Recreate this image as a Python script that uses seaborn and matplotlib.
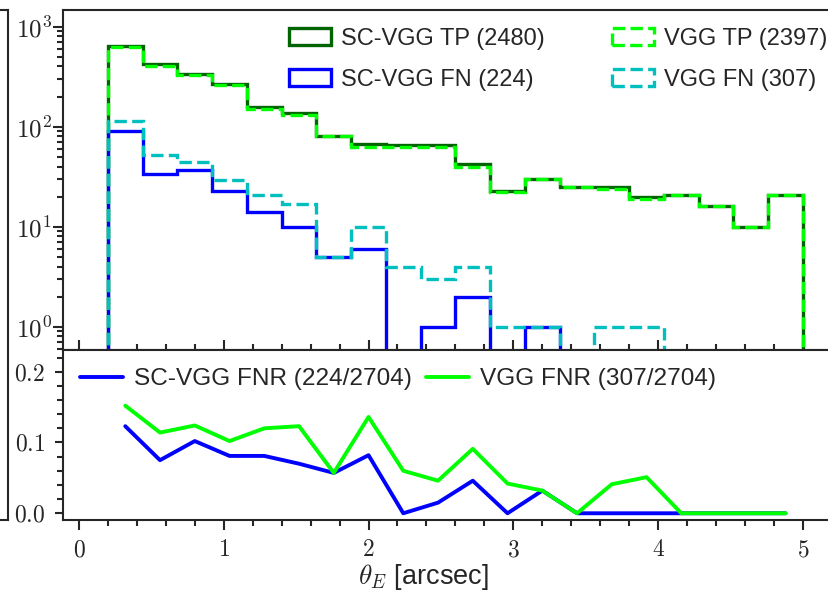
import numpy as np
import matplotlib
matplotlib.use("Agg")
import matplotlib.pyplot as plt
import seaborn as sns
from matplotlib.ticker import FuncFormatter, MultipleLocator, LogLocator, NullFormatter

# ---------------- data ----------------
bin_edges = [0.20, 0.44, 0.68, 0.92, 1.16, 1.40, 1.64, 1.88, 2.12, 2.36, 2.60,
             2.84, 3.08, 3.32, 3.56, 3.80, 4.04, 4.28, 4.52, 4.76, 5.00]
bin_centers = [0.32, 0.56, 0.80, 1.04, 1.28, 1.52, 1.76, 2.00, 2.24, 2.48,
               2.72, 2.96, 3.20, 3.44, 3.68, 3.92, 4.16, 4.40, 4.64, 4.88]

sc_tp = [646, 425, 333, 268, 159, 137, 81, 67, 66, 65, 42, 23, 30, 25, 25, 20, 21, 16, 10, 21]
vgg_tp = [623, 407, 326, 262, 152, 130, 81, 63, 62, 63, 40, 22, 30, 25, 24, 19, 21, 16, 10, 21]
sc_fn = [91, 34, 37, 23, 14, 10, 5, 6, 0, 1, 2, 0, 1, 0, 0, 0, 0, 0, 0, 0]
vgg_fn = [114, 52, 44, 29, 21, 17, 5, 10, 4, 3, 4, 1, 1, 0, 1, 1, 0, 0, 0, 0]

sc_fnr = [0.123, 0.075, 0.102, 0.081, 0.081, 0.070, 0.057, 0.082, 0.0, 0.015,
          0.046, 0.0, 0.032, 0.0, 0.0, 0.0, 0.0, 0.0, 0.0, 0.0]
vgg_fnr = [0.152, 0.114, 0.124, 0.102, 0.120, 0.123, 0.057, 0.136, 0.060, 0.046,
           0.091, 0.042, 0.032, 0.0, 0.041, 0.051, 0.0, 0.0, 0.0, 0.0]

labels_top = ["SC-VGG TP (2480)", "SC-VGG FN (224)", "VGG TP (2397)", "VGG FN (307)"]
labels_bot = ["SC-VGG FNR (224/2704)", "VGG FNR (307/2704)"]
xlabel = r"$\theta_E$ [arcsec]"

# ---------------- style ----------------
sns.set_style("ticks")
plt.rcParams["font.family"] = ["Liberation Sans", "DejaVu Sans"]
plt.rcParams["mathtext.fontset"] = "cm"
plt.rcParams["axes.linewidth"] = 1.5

W, H = 829, 591
fig = plt.figure(figsize=(W / 100, H / 100), dpi=100)

def fx(px):
    return px / W

def fy(py):
    return 1 - py / H

ax_left, ax_right = 63, 841
y_top, y_mid, y_bot = 10, 350, 520
px_per_unit = 144.8

# partial neighbouring panel on the left edge
ax0 = fig.add_axes([-0.5, fy(y_bot), 0.5 + fx(8), fy(y_top) - fy(y_bot)])
ax0.set_xticks([])
ax0.set_yticks([])
for s in ax0.spines.values():
    s.set_linewidth(1.5)

ax1 = fig.add_axes([fx(ax_left), fy(y_mid), fx(ax_right - ax_left), fy(y_top) - fy(y_mid)])
ax2 = fig.add_axes([fx(ax_left), fy(y_bot), fx(ax_right - ax_left), fy(y_mid) - fy(y_bot)])

# ---------------- top: histograms ----------------
lw_h = 2.4
ax1.hist(bin_centers, bins=bin_edges, weights=sc_tp, histtype="step", color="#006400",
         lw=lw_h, label=labels_top[0], log=True)
ax1.hist(bin_centers, bins=bin_edges, weights=sc_fn, histtype="step", color="#0000ff",
         lw=lw_h, label=labels_top[1], log=True)
ax1.hist(bin_centers, bins=bin_edges, weights=vgg_tp, histtype="step", color="#00ff00",
         lw=lw_h, ls="--", label=labels_top[2], log=True)
ax1.hist(bin_centers, bins=bin_edges, weights=vgg_fn, histtype="step", color="#00bfbf",
         lw=lw_h, ls="--", label=labels_top[3], log=True)

xmin = -0.11
xmax = xmin + (ax_right - ax_left) / px_per_unit
ax1.set_xlim(xmin, xmax)
ax1.set_ylim(0.586, 1467)
ax1.xaxis.set_major_locator(MultipleLocator(1))
ax1.xaxis.set_minor_locator(MultipleLocator(0.2))
ax1.tick_params(axis="x", which="both", direction="in", bottom=True, top=False,
                labelbottom=False, width=1.5)
ax1.tick_params(axis="x", which="major", length=7)
ax1.tick_params(axis="x", which="minor", length=4)
ax1.yaxis.set_major_locator(LogLocator(base=10, numticks=10))
ax1.yaxis.set_minor_locator(LogLocator(base=10, subs=np.arange(2, 10), numticks=20))
ax1.yaxis.set_major_formatter(FuncFormatter(lambda v, p: r"$10^{%d}$" % round(np.log10(v))))
ax1.yaxis.set_minor_formatter(NullFormatter())
ax1.tick_params(axis="y", which="both", direction="out", left=True, right=False,
                labelsize=18, pad=1, width=1.5)
ax1.tick_params(axis="y", which="major", length=7)
ax1.tick_params(axis="y", which="minor", length=4)
ax1.spines["right"].set_visible(False)

h, l = ax1.get_legend_handles_labels()
ax1.legend(h, l, ncol=2, loc="upper right", bbox_to_anchor=(fx(827), fy(28)),
           bbox_transform=fig.transFigure, frameon=False, fontsize=17,
           borderpad=0, borderaxespad=0, handlelength=1.8, handleheight=0.75,
           handletextpad=0.4, columnspacing=2.85, labelspacing=0.8)

# ---------------- bottom: FNR lines ----------------
sns.lineplot(x=bin_centers, y=sc_fnr, color="#0000ff", lw=2.8, label=labels_bot[0], ax=ax2)
sns.lineplot(x=bin_centers, y=vgg_fnr, color="#00ff00", lw=2.8, label=labels_bot[1], ax=ax2)
ax2.set_xlim(xmin, xmax)
ax2.set_ylim(-0.0095, 0.2306)
ax2.xaxis.set_major_locator(MultipleLocator(1))
ax2.xaxis.set_minor_locator(MultipleLocator(0.2))
ax2.xaxis.set_major_formatter(FuncFormatter(lambda v, p: r"$%d$" % round(v)))
ax2.yaxis.set_major_locator(MultipleLocator(0.1))
ax2.yaxis.set_minor_locator(MultipleLocator(0.02))
ax2.yaxis.set_major_formatter(FuncFormatter(lambda v, p: r"$%.1f$" % v))
ax2.tick_params(axis="both", which="both", direction="out", width=1.5, labelsize=17)
ax2.tick_params(axis="x", which="major", length=7, pad=7)
ax2.tick_params(axis="x", which="minor", length=4)
ax2.tick_params(axis="y", which="major", length=6, pad=7)
ax2.tick_params(axis="y", which="minor", length=4)
ax2.spines["right"].set_visible(False)
ax2.set_xlabel(xlabel, fontsize=19.5)
ax2.xaxis.set_label_coords((423 - ax_left) / (ax_right - ax_left), -0.245)
ax2.set_ylabel("")
ax2.legend(ncol=2, loc="upper left", bbox_to_anchor=(fx(80), fy(368)),
           bbox_transform=fig.transFigure, frameon=False, fontsize=17.6,
           borderpad=0, borderaxespad=0, handlelength=1.75, handletextpad=0.45,
           columnspacing=0.6)

fig.savefig("out.png", dpi=100)
